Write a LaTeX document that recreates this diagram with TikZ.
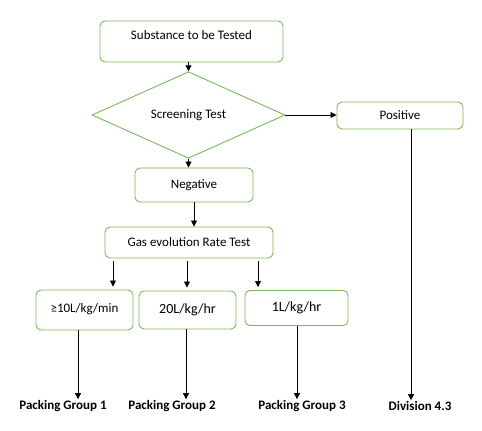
\documentclass[tikz,border=0pt]{standalone}
\usepackage{fontspec}
\setmainfont{Carlito}
\usetikzlibrary{shapes.geometric,arrows.meta}
\definecolor{boxgreen}{RGB}{122,184,88}
\tikzset{
	box/.style={draw=boxgreen,line width=0.9pt,rounded corners=5pt,inner sep=0pt,font=\fontsize{13}{15}\selectfont},
	decision/.style={draw=boxgreen,line width=0.9pt,diamond,inner sep=0pt,font=\fontsize{13}{15}\selectfont},
	result/.style={inner sep=1pt,font=\fontsize{13}{15}\selectfont\bfseries},
	arr/.style={line width=0.8pt,-{Triangle[length=6pt,width=6pt]}}
}
\begin{document}
\begin{tikzpicture}[x=1pt,y=-1pt]
			\useasboundingbox (0,0) rectangle (482,431);
			\node [box,minimum width=183pt,minimum height=41pt,text height=9pt,text depth=14pt] (sub) at (191.5,41.5) {Substance to be Tested};
			\node [decision,minimum width=193pt,minimum height=52pt] (scr) at (188.5,115) {Screening Test};
			\node [box,minimum width=126pt,minimum height=27pt] (pos) at (400,115.5) {Positive};
			\node [box,minimum width=118pt,minimum height=34pt] (neg) at (194,185) {Negative};
			\node [box,minimum width=168pt,minimum height=31pt] (gas) at (189,242.5) {Gas evolution Rate Test};
			\node [box,minimum width=97pt,minimum height=40pt,text depth=5pt] (r1) at (84.5,310) {≥10L/kg/min};
			\node [box,minimum width=97pt,minimum height=38pt,font=\fontsize{14}{16}\selectfont] (r2) at (187.5,310) {20L/kg/hr};
			\node [box,minimum width=103pt,minimum height=35pt,font=\fontsize{14}{16}\selectfont] (r3) at (296.5,308) {1L/kg/hr\hspace{10pt}};
			\node [result] (pg1) at (63,406) {Packing Group 1};
			\node [result] (pg2) at (172,406) {Packing Group 2};
			\node [result] (pg3) at (302,406) {Packing Group 3};
			\node [result] (div) at (420,406) {Division 4.3};
			\coordinate (a1) at (113,0);
			\coordinate (a2) at (187,0);
			\coordinate (a3) at (258,0);
			\coordinate (d1) at (78,0);
			\coordinate (d2) at (186,0);
			\coordinate (d3) at (297,0);
			\coordinate (d4) at (411,0);
			\draw[arr] (scr.north |- sub.south) -- (scr.north);
			\draw[arr] (scr.east) -- (scr.east -| pos.west);
			\draw[arr] (scr.south) -- (scr.south |- neg.north);
			\draw[arr] (neg.south) -- (neg.south |- gas.north);
			\draw[arr,shorten <=3pt,shorten >=3pt] (a1 |- gas.south) -- (a1 |- r1.north);
			\draw[arr,shorten <=3pt,shorten >=3pt] (a2 |- gas.south) -- (a2 |- r2.north);
			\draw[arr,shorten <=3pt,shorten >=3pt] (a3 |- gas.south) -- (a3 |- r3.north);
			\draw[arr] (d1 |- r1.south) -- (d1 |- pg1.north);
			\draw[arr] (d2 |- r2.south) -- (d2 |- pg2.north);
			\draw[arr] (d3 |- r3.south) -- (d3 |- pg3.north);
			\draw[arr] (d4 |- pos.south) -- (d4 |- div.north);
		\end{tikzpicture}
\end{document}
